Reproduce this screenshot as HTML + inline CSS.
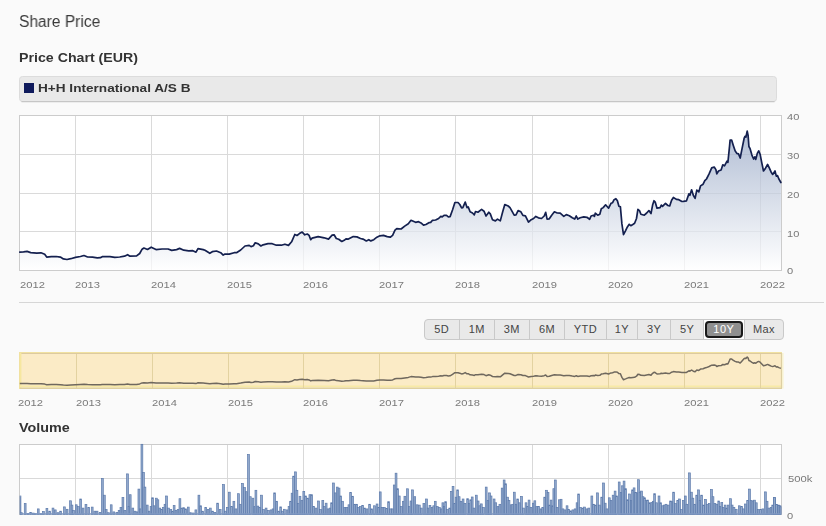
<!DOCTYPE html>
<html><head><meta charset="utf-8"><title>Share Price</title>
<style>
html,body{margin:0;padding:0;}
body{width:826px;height:526px;background:#fafafa;position:relative;overflow:hidden;font-family:"Liberation Sans",sans-serif;}
.t{position:absolute;white-space:nowrap;line-height:1;will-change:transform;}
.btns{position:absolute;left:423.5px;top:318.5px;height:19px;width:358.5px;border:1px solid #c9c9c9;border-radius:4px;background:#e9e9e9;display:flex;overflow:hidden;}
.btns div{box-sizing:border-box;height:19px;line-height:19.6px;text-align:center;font-size:11px;color:#444;border-left:1px solid #c9c9c9;letter-spacing:0.4px;padding-left:0.4px;}
.btns div:first-child{border-left:none;}
.btns .sel{background:#fff;position:relative;}
.btns .sel span{position:absolute;left:1px;top:1px;right:1px;bottom:1px;border:2px solid #1a1a1a;border-radius:4px;background:#8f8f8f;color:#fff;line-height:13.6px;}
</style></head><body>
<svg width="826" height="526" viewBox="0 0 826 526" style="position:absolute;left:0;top:0">
<defs>
<linearGradient id="ag" gradientUnits="userSpaceOnUse" x1="0" y1="131" x2="0" y2="270.5">
<stop offset="0" stop-color="#94a5c4" stop-opacity="0.72"/><stop offset="1" stop-color="#ffffff" stop-opacity="0.72"/></linearGradient>
</defs>
<rect x="19.5" y="76.5" width="757" height="25" rx="3" ry="3" fill="#e9e9e9" stroke="#dcdcdc" stroke-width="1"/>
<line x1="21.5" y1="101.7" x2="774.5" y2="101.7" stroke="#c6c6c6" stroke-width="1.3"/>
<rect x="24" y="83" width="10" height="10" fill="#0f1a5c"/>
<rect x="19.5" y="115.5" width="762.0" height="155.0" fill="#ffffff"/>
<line x1="19.5" y1="154.50" x2="781.5" y2="154.50" stroke="#dadada" stroke-width="1"/>
<line x1="19.5" y1="193.50" x2="781.5" y2="193.50" stroke="#dadada" stroke-width="1"/>
<line x1="19.5" y1="231.50" x2="781.5" y2="231.50" stroke="#dadada" stroke-width="1"/>
<line x1="75.5" y1="115.5" x2="75.5" y2="270.5" stroke="#dadada" stroke-width="1"/>
<line x1="151.5" y1="115.5" x2="151.5" y2="270.5" stroke="#dadada" stroke-width="1"/>
<line x1="227.5" y1="115.5" x2="227.5" y2="270.5" stroke="#dadada" stroke-width="1"/>
<line x1="303.5" y1="115.5" x2="303.5" y2="270.5" stroke="#dadada" stroke-width="1"/>
<line x1="379.5" y1="115.5" x2="379.5" y2="270.5" stroke="#dadada" stroke-width="1"/>
<line x1="455.5" y1="115.5" x2="455.5" y2="270.5" stroke="#dadada" stroke-width="1"/>
<line x1="532.5" y1="115.5" x2="532.5" y2="270.5" stroke="#dadada" stroke-width="1"/>
<line x1="608.5" y1="115.5" x2="608.5" y2="270.5" stroke="#dadada" stroke-width="1"/>
<line x1="684.5" y1="115.5" x2="684.5" y2="270.5" stroke="#dadada" stroke-width="1"/>
<line x1="760.5" y1="115.5" x2="760.5" y2="270.5" stroke="#dadada" stroke-width="1"/>
<path d="M19.8,252.2 L23.5,251.9 L27.1,251.4 L30.7,252.6 L36.8,253.1 L41.0,252.8 L44.7,254.3 L46.7,257.1 L51.3,256.7 L56.2,256.5 L60.4,257.1 L63.4,258.9 L67.0,259.5 L70.7,258.7 L75.5,257.4 L80.4,256.5 L84.0,255.5 L87.6,257.0 L92.5,257.2 L97.3,257.9 L100.4,257.7 L102.2,256.7 L107.0,256.7 L110.0,256.7 L114.8,257.4 L119.7,257.0 L124.5,256.2 L127.6,254.7 L130.0,256.2 L136.6,255.9 L139.7,253.5 L142.1,249.2 L143.9,248.0 L147.5,249.5 L151.2,247.2 L156.0,249.6 L162.1,249.0 L168.1,249.0 L171.7,250.4 L176.6,249.6 L179.6,248.4 L183.8,250.2 L188.7,250.8 L192.9,250.7 L196.0,252.2 L198.0,248.6 L203.2,249.6 L205.0,250.3 L209.8,253.3 L212.3,251.7 L216.5,251.0 L220.7,252.7 L223.2,255.1 L225.0,254.1 L229.2,254.1 L234.1,252.7 L236.5,252.7 L240.7,250.0 L245.0,246.0 L249.2,245.4 L251.0,246.6 L253.4,245.7 L255.2,242.8 L258.3,243.9 L260.9,246.0 L263.1,244.8 L268.0,243.7 L272.2,243.7 L276.4,245.2 L281.3,245.2 L284.9,244.2 L288.5,245.4 L291.6,241.8 L294.8,234.5 L297.0,235.5 L299.4,233.6 L302.2,232.1 L304.8,234.8 L307.3,234.0 L309.1,235.4 L310.7,239.7 L312.1,238.1 L318.2,236.6 L324.2,237.8 L328.5,239.1 L332.1,235.2 L334.1,234.8 L336.3,238.5 L338.7,239.3 L341.8,241.5 L344.2,240.3 L346.0,238.8 L348.4,239.1 L353.3,236.6 L356.9,236.9 L360.5,238.5 L363.0,239.1 L366.3,240.9 L368.8,239.7 L370.8,240.9 L373.8,239.7 L376.9,237.2 L379.9,235.8 L383.5,235.4 L387.2,236.6 L390.2,237.2 L392.6,235.4 L395.0,230.2 L396.8,228.6 L401.1,229.0 L404.7,226.1 L408.3,223.7 L411.0,220.3 L415.6,222.3 L418.6,221.7 L421.0,222.9 L423.5,225.1 L425.9,224.5 L428.9,222.7 L430.7,222.4 L432.5,220.3 L435.6,220.0 L438.6,218.5 L440.8,216.4 L442.2,216.9 L444.0,215.4 L446.5,215.4 L448.3,216.9 L450.1,216.6 L452.5,210.0 L454.9,202.5 L458.0,202.5 L459.8,204.5 L461.6,207.9 L462.8,207.6 L465.2,202.1 L467.0,207.6 L468.2,206.9 L470.1,211.8 L472.5,213.0 L474.3,214.8 L475.5,211.5 L477.9,212.2 L481.6,209.4 L484.0,211.2 L486.0,216.0 L488.8,212.2 L490.3,213.9 L492.5,219.7 L495.4,220.9 L497.5,219.1 L500.3,220.9 L502.7,211.8 L504.8,204.5 L508.2,206.0 L510.0,207.6 L514.2,215.2 L516.0,214.8 L518.1,210.6 L520.9,211.8 L522.9,215.4 L525.4,215.8 L528.5,222.1 L531.2,219.7 L533.6,218.5 L535.8,216.4 L538.4,217.8 L541.5,218.5 L544.2,216.0 L545.7,212.4 L547.1,219.1 L549.3,218.8 L551.7,215.2 L554.4,211.8 L557.2,213.0 L560.2,213.2 L563.8,216.4 L566.3,214.6 L569.3,215.7 L572.3,217.8 L574.7,219.1 L576.3,216.0 L577.8,219.1 L580.2,217.8 L583.8,216.9 L586.9,217.3 L589.6,219.3 L591.1,216.0 L593.5,215.2 L594.4,216.4 L595.3,213.2 L597.7,215.2 L599.8,214.2 L601.3,208.8 L603.2,207.6 L605.6,204.8 L608.6,208.2 L611.0,203.3 L612.6,202.7 L614.1,199.7 L615.9,198.7 L617.4,200.7 L618.9,206.3 L620.4,206.9 L621.9,223.9 L623.5,234.6 L625.6,230.6 L627.4,226.9 L629.2,224.3 L630.8,225.7 L632.8,224.5 L634.6,223.3 L636.5,218.5 L637.9,209.4 L639.5,210.6 L640.9,214.2 L644.3,215.2 L646.7,213.0 L648.9,210.6 L651.0,213.6 L652.6,205.1 L654.0,200.7 L655.2,202.1 L657.0,208.2 L660.1,207.6 L661.3,205.1 L662.5,206.3 L665.5,203.3 L667.9,205.5 L669.7,206.0 L671.6,200.3 L673.4,197.5 L676.4,199.4 L678.8,199.7 L681.9,201.5 L683.4,201.3 L686.5,200.8 L688.9,193.9 L689.9,195.3 L691.6,189.8 L693.3,195.3 L695.1,198.4 L696.8,190.1 L698.8,191.9 L700.5,185.9 L703.1,184.2 L704.8,180.7 L706.5,179.0 L709.1,173.9 L711.7,167.9 L714.2,167.0 L715.9,169.6 L716.8,173.9 L718.5,171.0 L721.1,170.0 L722.8,164.8 L724.5,165.9 L727.0,161.1 L727.9,162.4 L729.6,145.7 L730.1,140.2 L731.7,140.2 L733.4,145.7 L735.1,150.8 L736.8,153.4 L738.5,153.9 L740.2,158.0 L741.6,150.8 L744.2,138.0 L745.0,136.3 L745.9,137.1 L747.2,131.1 L748.1,135.4 L748.9,146.5 L750.1,148.7 L751.9,155.1 L753.6,159.0 L754.8,156.8 L755.8,159.4 L757.3,153.4 L758.7,150.8 L760.1,154.2 L761.8,162.8 L763.5,171.0 L765.5,168.2 L767.6,164.5 L769.3,167.9 L771.2,172.2 L772.7,174.4 L775.0,171.0 L776.3,176.1 L777.5,175.6 L778.9,179.0 L780.9,182.5 L780.9,270.5 L19.8,270.5 Z" fill="url(#ag)"/>
<rect x="19.5" y="115.5" width="762.0" height="155.0" fill="none" stroke="#cccccc" stroke-width="1"/>
<path d="M19.8,252.2 L23.5,251.9 L27.1,251.4 L30.7,252.6 L36.8,253.1 L41.0,252.8 L44.7,254.3 L46.7,257.1 L51.3,256.7 L56.2,256.5 L60.4,257.1 L63.4,258.9 L67.0,259.5 L70.7,258.7 L75.5,257.4 L80.4,256.5 L84.0,255.5 L87.6,257.0 L92.5,257.2 L97.3,257.9 L100.4,257.7 L102.2,256.7 L107.0,256.7 L110.0,256.7 L114.8,257.4 L119.7,257.0 L124.5,256.2 L127.6,254.7 L130.0,256.2 L136.6,255.9 L139.7,253.5 L142.1,249.2 L143.9,248.0 L147.5,249.5 L151.2,247.2 L156.0,249.6 L162.1,249.0 L168.1,249.0 L171.7,250.4 L176.6,249.6 L179.6,248.4 L183.8,250.2 L188.7,250.8 L192.9,250.7 L196.0,252.2 L198.0,248.6 L203.2,249.6 L205.0,250.3 L209.8,253.3 L212.3,251.7 L216.5,251.0 L220.7,252.7 L223.2,255.1 L225.0,254.1 L229.2,254.1 L234.1,252.7 L236.5,252.7 L240.7,250.0 L245.0,246.0 L249.2,245.4 L251.0,246.6 L253.4,245.7 L255.2,242.8 L258.3,243.9 L260.9,246.0 L263.1,244.8 L268.0,243.7 L272.2,243.7 L276.4,245.2 L281.3,245.2 L284.9,244.2 L288.5,245.4 L291.6,241.8 L294.8,234.5 L297.0,235.5 L299.4,233.6 L302.2,232.1 L304.8,234.8 L307.3,234.0 L309.1,235.4 L310.7,239.7 L312.1,238.1 L318.2,236.6 L324.2,237.8 L328.5,239.1 L332.1,235.2 L334.1,234.8 L336.3,238.5 L338.7,239.3 L341.8,241.5 L344.2,240.3 L346.0,238.8 L348.4,239.1 L353.3,236.6 L356.9,236.9 L360.5,238.5 L363.0,239.1 L366.3,240.9 L368.8,239.7 L370.8,240.9 L373.8,239.7 L376.9,237.2 L379.9,235.8 L383.5,235.4 L387.2,236.6 L390.2,237.2 L392.6,235.4 L395.0,230.2 L396.8,228.6 L401.1,229.0 L404.7,226.1 L408.3,223.7 L411.0,220.3 L415.6,222.3 L418.6,221.7 L421.0,222.9 L423.5,225.1 L425.9,224.5 L428.9,222.7 L430.7,222.4 L432.5,220.3 L435.6,220.0 L438.6,218.5 L440.8,216.4 L442.2,216.9 L444.0,215.4 L446.5,215.4 L448.3,216.9 L450.1,216.6 L452.5,210.0 L454.9,202.5 L458.0,202.5 L459.8,204.5 L461.6,207.9 L462.8,207.6 L465.2,202.1 L467.0,207.6 L468.2,206.9 L470.1,211.8 L472.5,213.0 L474.3,214.8 L475.5,211.5 L477.9,212.2 L481.6,209.4 L484.0,211.2 L486.0,216.0 L488.8,212.2 L490.3,213.9 L492.5,219.7 L495.4,220.9 L497.5,219.1 L500.3,220.9 L502.7,211.8 L504.8,204.5 L508.2,206.0 L510.0,207.6 L514.2,215.2 L516.0,214.8 L518.1,210.6 L520.9,211.8 L522.9,215.4 L525.4,215.8 L528.5,222.1 L531.2,219.7 L533.6,218.5 L535.8,216.4 L538.4,217.8 L541.5,218.5 L544.2,216.0 L545.7,212.4 L547.1,219.1 L549.3,218.8 L551.7,215.2 L554.4,211.8 L557.2,213.0 L560.2,213.2 L563.8,216.4 L566.3,214.6 L569.3,215.7 L572.3,217.8 L574.7,219.1 L576.3,216.0 L577.8,219.1 L580.2,217.8 L583.8,216.9 L586.9,217.3 L589.6,219.3 L591.1,216.0 L593.5,215.2 L594.4,216.4 L595.3,213.2 L597.7,215.2 L599.8,214.2 L601.3,208.8 L603.2,207.6 L605.6,204.8 L608.6,208.2 L611.0,203.3 L612.6,202.7 L614.1,199.7 L615.9,198.7 L617.4,200.7 L618.9,206.3 L620.4,206.9 L621.9,223.9 L623.5,234.6 L625.6,230.6 L627.4,226.9 L629.2,224.3 L630.8,225.7 L632.8,224.5 L634.6,223.3 L636.5,218.5 L637.9,209.4 L639.5,210.6 L640.9,214.2 L644.3,215.2 L646.7,213.0 L648.9,210.6 L651.0,213.6 L652.6,205.1 L654.0,200.7 L655.2,202.1 L657.0,208.2 L660.1,207.6 L661.3,205.1 L662.5,206.3 L665.5,203.3 L667.9,205.5 L669.7,206.0 L671.6,200.3 L673.4,197.5 L676.4,199.4 L678.8,199.7 L681.9,201.5 L683.4,201.3 L686.5,200.8 L688.9,193.9 L689.9,195.3 L691.6,189.8 L693.3,195.3 L695.1,198.4 L696.8,190.1 L698.8,191.9 L700.5,185.9 L703.1,184.2 L704.8,180.7 L706.5,179.0 L709.1,173.9 L711.7,167.9 L714.2,167.0 L715.9,169.6 L716.8,173.9 L718.5,171.0 L721.1,170.0 L722.8,164.8 L724.5,165.9 L727.0,161.1 L727.9,162.4 L729.6,145.7 L730.1,140.2 L731.7,140.2 L733.4,145.7 L735.1,150.8 L736.8,153.4 L738.5,153.9 L740.2,158.0 L741.6,150.8 L744.2,138.0 L745.0,136.3 L745.9,137.1 L747.2,131.1 L748.1,135.4 L748.9,146.5 L750.1,148.7 L751.9,155.1 L753.6,159.0 L754.8,156.8 L755.8,159.4 L757.3,153.4 L758.7,150.8 L760.1,154.2 L761.8,162.8 L763.5,171.0 L765.5,168.2 L767.6,164.5 L769.3,167.9 L771.2,172.2 L772.7,174.4 L775.0,171.0 L776.3,176.1 L777.5,175.6 L778.9,179.0 L780.9,182.5" fill="none" stroke="#14204f" stroke-width="1.7" stroke-linejoin="round" stroke-linecap="round"/>
<line x1="19" y1="302.5" x2="824" y2="302.5" stroke="#d6d6d6" stroke-width="1"/>
<rect x="19.5" y="352.5" width="762.0" height="36" fill="#fbebc6" stroke="#f1e1a0" stroke-width="1"/>
<line x1="20" y1="353.5" x2="782" y2="353.5" stroke="#dccaa0" stroke-width="1"/>
<line x1="20.7" y1="353" x2="20.7" y2="388" stroke="#f6e79f" stroke-width="1.4"/>
<line x1="20" y1="386.4" x2="781" y2="386.4" stroke="#f8eaa6" stroke-width="1.8"/>
<line x1="20" y1="388.2" x2="782" y2="388.2" stroke="#d6c8a0" stroke-width="1"/>
<line x1="781.4" y1="353" x2="781.4" y2="388.5" stroke="#dacda4" stroke-width="1"/>
<line x1="782.8" y1="353" x2="782.8" y2="388.5" stroke="#f8f1cc" stroke-width="1.4"/>
<line x1="76.5" y1="354" x2="76.5" y2="388" stroke="#e3d2a0" stroke-width="1"/>
<line x1="152.5" y1="354" x2="152.5" y2="388" stroke="#e3d2a0" stroke-width="1"/>
<line x1="228.5" y1="354" x2="228.5" y2="388" stroke="#e3d2a0" stroke-width="1"/>
<line x1="303.5" y1="354" x2="303.5" y2="388" stroke="#e3d2a0" stroke-width="1"/>
<line x1="379.5" y1="354" x2="379.5" y2="388" stroke="#e3d2a0" stroke-width="1"/>
<line x1="455.5" y1="354" x2="455.5" y2="388" stroke="#e3d2a0" stroke-width="1"/>
<line x1="532.5" y1="354" x2="532.5" y2="388" stroke="#e3d2a0" stroke-width="1"/>
<line x1="608.5" y1="354" x2="608.5" y2="388" stroke="#e3d2a0" stroke-width="1"/>
<line x1="684.5" y1="354" x2="684.5" y2="388" stroke="#e3d2a0" stroke-width="1"/>
<line x1="760.5" y1="354" x2="760.5" y2="388" stroke="#e3d2a0" stroke-width="1"/>
<path d="M19.8,383.6 L23.5,383.5 L27.1,383.4 L30.7,383.7 L36.8,383.8 L41.0,383.7 L44.7,384.1 L46.7,384.7 L51.3,384.6 L56.2,384.5 L60.4,384.7 L63.4,385.1 L67.0,385.2 L70.7,385.0 L75.5,384.7 L80.4,384.5 L84.0,384.3 L87.6,384.6 L92.5,384.7 L97.3,384.8 L100.4,384.8 L102.2,384.6 L107.0,384.6 L110.0,384.6 L114.8,384.7 L119.7,384.6 L124.5,384.5 L127.6,384.1 L130.0,384.5 L136.6,384.4 L139.7,383.9 L142.1,382.9 L143.9,382.7 L147.5,383.0 L151.2,382.5 L156.0,383.0 L162.1,382.9 L168.1,382.9 L171.7,383.2 L176.6,383.0 L179.6,382.8 L183.8,383.2 L188.7,383.3 L192.9,383.3 L196.0,383.6 L198.0,382.8 L203.2,383.0 L205.0,383.2 L209.8,383.8 L212.3,383.5 L216.5,383.3 L220.7,383.7 L223.2,384.2 L225.0,384.0 L229.2,384.0 L234.1,383.7 L236.5,383.7 L240.7,383.1 L245.0,382.2 L249.2,382.1 L251.0,382.4 L253.4,382.2 L255.2,381.5 L258.3,381.8 L260.9,382.2 L263.1,382.0 L268.0,381.7 L272.2,381.7 L276.4,382.1 L281.3,382.1 L284.9,381.8 L288.5,382.1 L291.6,381.3 L294.8,379.7 L297.0,379.9 L299.4,379.5 L302.2,379.2 L304.8,379.8 L307.3,379.6 L309.1,379.9 L310.7,380.9 L312.1,380.5 L318.2,380.2 L324.2,380.4 L328.5,380.7 L332.1,379.9 L334.1,379.8 L336.3,380.6 L338.7,380.8 L341.8,381.3 L344.2,381.0 L346.0,380.7 L348.4,380.7 L353.3,380.2 L356.9,380.3 L360.5,380.6 L363.0,380.7 L366.3,381.1 L368.8,380.9 L370.8,381.1 L373.8,380.9 L376.9,380.3 L379.9,380.0 L383.5,379.9 L387.2,380.2 L390.2,380.3 L392.6,379.9 L395.0,378.8 L396.8,378.4 L401.1,378.5 L404.7,377.9 L408.3,377.4 L411.0,376.6 L415.6,377.1 L418.6,376.9 L421.0,377.2 L423.5,377.7 L425.9,377.5 L428.9,377.1 L430.7,377.1 L432.5,376.6 L435.6,376.6 L438.6,376.2 L440.8,375.8 L442.2,375.9 L444.0,375.5 L446.5,375.5 L448.3,375.9 L450.1,375.8 L452.5,374.4 L454.9,372.7 L458.0,372.7 L459.8,373.2 L461.6,373.9 L462.8,373.8 L465.2,372.6 L467.0,373.8 L468.2,373.7 L470.1,374.8 L472.5,375.0 L474.3,375.4 L475.5,374.7 L477.9,374.8 L481.6,374.2 L484.0,374.6 L486.0,375.7 L488.8,374.8 L490.3,375.2 L492.5,376.5 L495.4,376.8 L497.5,376.4 L500.3,376.8 L502.7,374.8 L504.8,373.2 L508.2,373.5 L510.0,373.8 L514.2,375.5 L516.0,375.4 L518.1,374.5 L520.9,374.8 L522.9,375.5 L525.4,375.6 L528.5,377.0 L531.2,376.5 L533.6,376.2 L535.8,375.8 L538.4,376.1 L541.5,376.2 L544.2,375.7 L545.7,374.9 L547.1,376.4 L549.3,376.3 L551.7,375.5 L554.4,374.8 L557.2,375.0 L560.2,375.1 L563.8,375.8 L566.3,375.4 L569.3,375.6 L572.3,376.1 L574.7,376.4 L576.3,375.7 L577.8,376.4 L580.2,376.1 L583.8,375.9 L586.9,376.0 L589.6,376.4 L591.1,375.7 L593.5,375.5 L594.4,375.8 L595.3,375.1 L597.7,375.5 L599.8,375.3 L601.3,374.1 L603.2,373.8 L605.6,373.2 L608.6,374.0 L611.0,372.9 L612.6,372.8 L614.1,372.1 L615.9,371.9 L617.4,372.3 L618.9,373.6 L620.4,373.7 L621.9,377.4 L623.5,379.7 L625.6,378.9 L627.4,378.1 L629.2,377.5 L630.8,377.8 L632.8,377.5 L634.6,377.3 L636.5,376.2 L637.9,374.2 L639.5,374.5 L640.9,375.3 L644.3,375.5 L646.7,375.0 L648.9,374.5 L651.0,375.2 L652.6,373.3 L654.0,372.3 L655.2,372.6 L657.0,374.0 L660.1,373.8 L661.3,373.3 L662.5,373.6 L665.5,372.9 L667.9,373.4 L669.7,373.5 L671.6,372.2 L673.4,371.6 L676.4,372.0 L678.8,372.1 L681.9,372.5 L683.4,372.5 L686.5,372.4 L688.9,370.8 L689.9,371.2 L691.6,370.0 L693.3,371.2 L695.1,371.8 L696.8,370.0 L698.8,370.4 L700.5,369.1 L703.1,368.7 L704.8,368.0 L706.5,367.6 L709.1,366.5 L711.7,365.2 L714.2,365.0 L715.9,365.5 L716.8,366.5 L718.5,365.8 L721.1,365.6 L722.8,364.5 L724.5,364.7 L727.0,363.7 L727.9,364.0 L729.6,360.3 L730.1,359.1 L731.7,359.1 L733.4,360.3 L735.1,361.4 L736.8,362.0 L738.5,362.1 L740.2,363.0 L741.6,361.4 L744.2,358.6 L745.0,358.2 L745.9,358.4 L747.2,357.1 L748.1,358.1 L748.9,360.5 L750.1,361.0 L751.9,362.4 L753.6,363.2 L754.8,362.7 L755.8,363.3 L757.3,362.0 L758.7,361.4 L760.1,362.2 L761.8,364.0 L763.5,365.8 L765.5,365.2 L767.6,364.4 L769.3,365.2 L771.2,366.1 L772.7,366.6 L775.0,365.8 L776.3,367.0 L777.5,366.8 L778.9,367.6 L780.9,368.4" fill="none" stroke="#6f685e" stroke-width="1.5" stroke-linejoin="round"/>
<rect x="19.5" y="444.5" width="762.0" height="70.0" fill="#ffffff"/>
<line x1="19.5" y1="478.5" x2="781.5" y2="478.5" stroke="#d9d9d9" stroke-width="1"/>
<line x1="75.5" y1="444.5" x2="75.5" y2="514.5" stroke="#d9d9d9" stroke-width="1"/>
<line x1="151.5" y1="444.5" x2="151.5" y2="514.5" stroke="#d9d9d9" stroke-width="1"/>
<line x1="227.5" y1="444.5" x2="227.5" y2="514.5" stroke="#d9d9d9" stroke-width="1"/>
<line x1="303.5" y1="444.5" x2="303.5" y2="514.5" stroke="#d9d9d9" stroke-width="1"/>
<line x1="379.5" y1="444.5" x2="379.5" y2="514.5" stroke="#d9d9d9" stroke-width="1"/>
<line x1="455.5" y1="444.5" x2="455.5" y2="514.5" stroke="#d9d9d9" stroke-width="1"/>
<line x1="532.5" y1="444.5" x2="532.5" y2="514.5" stroke="#d9d9d9" stroke-width="1"/>
<line x1="608.5" y1="444.5" x2="608.5" y2="514.5" stroke="#d9d9d9" stroke-width="1"/>
<line x1="684.5" y1="444.5" x2="684.5" y2="514.5" stroke="#d9d9d9" stroke-width="1"/>
<line x1="760.5" y1="444.5" x2="760.5" y2="514.5" stroke="#d9d9d9" stroke-width="1"/>
<rect x="19.5" y="444.5" width="762.0" height="70.0" fill="none" stroke="#cccccc" stroke-width="1"/>
<g fill="#92a9cc" stroke="#5c7aab" stroke-width="0.7">
<rect x="20.00" y="496.0" width="0.92" height="18.5"/>
<rect x="20.48" y="512.7" width="1.80" height="1.8"/>
<rect x="24.28" y="503.6" width="1.80" height="10.9"/>
<rect x="27.02" y="513.4" width="1.80" height="1.1"/>
<rect x="29.75" y="512.4" width="1.80" height="2.1"/>
<rect x="32.34" y="513.1" width="1.80" height="1.4"/>
<rect x="34.62" y="513.7" width="1.80" height="0.8"/>
<rect x="37.35" y="508.9" width="1.80" height="5.6"/>
<rect x="39.94" y="513.7" width="1.80" height="0.8"/>
<rect x="42.52" y="511.5" width="1.80" height="3.0"/>
<rect x="46.01" y="508.4" width="1.80" height="6.1"/>
<rect x="48.75" y="511.2" width="1.80" height="3.3"/>
<rect x="52.09" y="508.1" width="1.80" height="6.4"/>
<rect x="54.37" y="509.9" width="1.80" height="4.6"/>
<rect x="56.96" y="512.7" width="1.80" height="1.8"/>
<rect x="59.69" y="511.2" width="1.80" height="3.3"/>
<rect x="63.49" y="506.9" width="1.80" height="7.6"/>
<rect x="66.23" y="509.3" width="1.80" height="5.2"/>
<rect x="69.57" y="500.8" width="1.80" height="13.7"/>
<rect x="71.09" y="505.1" width="1.80" height="9.4"/>
<rect x="72.61" y="510.4" width="1.80" height="4.1"/>
<rect x="75.35" y="504.8" width="1.80" height="9.7"/>
<rect x="77.63" y="506.6" width="1.80" height="7.9"/>
<rect x="79.75" y="499.0" width="1.80" height="15.5"/>
<rect x="82.19" y="508.1" width="1.80" height="6.4"/>
<rect x="85.07" y="504.6" width="1.80" height="9.9"/>
<rect x="87.81" y="507.4" width="1.80" height="7.1"/>
<rect x="91.30" y="507.1" width="1.80" height="7.5"/>
<rect x="93.89" y="511.2" width="1.80" height="3.3"/>
<rect x="96.17" y="511.2" width="1.80" height="3.3"/>
<rect x="99.21" y="512.4" width="1.80" height="2.1"/>
<rect x="101.49" y="478.5" width="1.80" height="36.0"/>
<rect x="103.46" y="495.2" width="1.80" height="19.3"/>
<rect x="105.29" y="509.6" width="1.80" height="4.9"/>
<rect x="107.57" y="512.7" width="1.80" height="1.8"/>
<rect x="110.30" y="504.8" width="1.80" height="9.7"/>
<rect x="112.90" y="511.9" width="1.80" height="2.6"/>
<rect x="115.94" y="512.4" width="1.80" height="2.1"/>
<rect x="118.22" y="510.4" width="1.80" height="4.1"/>
<rect x="120.04" y="507.4" width="1.80" height="7.1"/>
<rect x="122.02" y="497.5" width="1.80" height="17.0"/>
<rect x="123.99" y="510.4" width="1.80" height="4.1"/>
<rect x="126.58" y="473.9" width="1.80" height="40.6"/>
<rect x="128.10" y="506.6" width="1.80" height="7.9"/>
<rect x="129.31" y="494.7" width="1.80" height="19.8"/>
<rect x="131.90" y="508.1" width="1.80" height="6.4"/>
<rect x="134.18" y="511.2" width="1.80" height="3.3"/>
<rect x="136.15" y="511.9" width="1.80" height="2.6"/>
<rect x="137.98" y="489.1" width="1.80" height="25.4"/>
<rect x="139.50" y="508.9" width="1.80" height="5.6"/>
<rect x="141.01" y="444.3" width="1.80" height="70.2"/>
<rect x="142.53" y="472.4" width="1.80" height="42.1"/>
<rect x="144.05" y="487.1" width="1.80" height="27.4"/>
<rect x="146.33" y="505.1" width="1.80" height="9.4"/>
<rect x="148.31" y="511.2" width="1.80" height="3.3"/>
<rect x="150.13" y="506.6" width="1.80" height="7.9"/>
<rect x="151.65" y="497.8" width="1.80" height="16.7"/>
<rect x="153.17" y="505.8" width="1.80" height="8.7"/>
<rect x="155.45" y="498.2" width="1.80" height="16.3"/>
<rect x="156.97" y="499.8" width="1.80" height="14.7"/>
<rect x="158.95" y="508.1" width="1.80" height="6.4"/>
<rect x="160.77" y="509.6" width="1.80" height="4.9"/>
<rect x="162.60" y="507.4" width="1.80" height="7.1"/>
<rect x="164.12" y="504.3" width="1.80" height="10.2"/>
<rect x="165.63" y="496.0" width="1.80" height="18.5"/>
<rect x="167.61" y="508.1" width="1.80" height="6.4"/>
<rect x="169.89" y="509.6" width="1.80" height="4.9"/>
<rect x="171.71" y="511.2" width="1.80" height="3.3"/>
<rect x="173.23" y="505.5" width="1.80" height="9.0"/>
<rect x="175.21" y="510.4" width="1.80" height="4.1"/>
<rect x="177.19" y="509.6" width="1.80" height="4.9"/>
<rect x="179.01" y="498.7" width="1.80" height="15.8"/>
<rect x="180.83" y="508.1" width="1.80" height="6.4"/>
<rect x="182.81" y="507.7" width="1.80" height="6.8"/>
<rect x="184.78" y="508.9" width="1.80" height="5.6"/>
<rect x="187.37" y="507.1" width="1.80" height="7.5"/>
<rect x="189.65" y="512.7" width="1.80" height="1.8"/>
<rect x="192.38" y="513.0" width="1.80" height="1.5"/>
<rect x="194.97" y="509.9" width="1.80" height="4.6"/>
<rect x="198.01" y="495.2" width="1.80" height="19.3"/>
<rect x="199.83" y="505.8" width="1.80" height="8.7"/>
<rect x="201.81" y="511.2" width="1.80" height="3.3"/>
<rect x="204.84" y="507.4" width="1.80" height="7.1"/>
<rect x="207.14" y="509.6" width="1.80" height="4.9"/>
<rect x="209.42" y="508.1" width="1.80" height="6.4"/>
<rect x="211.70" y="511.2" width="1.80" height="3.3"/>
<rect x="213.98" y="512.4" width="1.80" height="2.1"/>
<rect x="216.71" y="503.2" width="1.80" height="11.2"/>
<rect x="219.30" y="509.6" width="1.80" height="4.9"/>
<rect x="222.64" y="484.6" width="1.80" height="29.9"/>
<rect x="224.62" y="511.2" width="1.80" height="3.3"/>
<rect x="226.44" y="507.4" width="1.80" height="7.1"/>
<rect x="228.42" y="492.2" width="1.80" height="22.3"/>
<rect x="230.70" y="506.6" width="1.80" height="7.9"/>
<rect x="232.98" y="501.3" width="1.80" height="13.2"/>
<rect x="234.95" y="508.9" width="1.80" height="5.6"/>
<rect x="237.53" y="493.7" width="1.80" height="20.8"/>
<rect x="239.36" y="504.3" width="1.80" height="10.2"/>
<rect x="241.64" y="483.5" width="1.80" height="31.0"/>
<rect x="243.61" y="487.6" width="1.80" height="26.9"/>
<rect x="245.44" y="491.7" width="1.80" height="22.8"/>
<rect x="247.57" y="454.5" width="1.80" height="60.0"/>
<rect x="249.39" y="496.7" width="1.80" height="17.8"/>
<rect x="251.97" y="498.2" width="1.80" height="16.3"/>
<rect x="253.95" y="506.6" width="1.80" height="7.9"/>
<rect x="255.01" y="490.3" width="1.80" height="24.2"/>
<rect x="256.99" y="506.1" width="1.80" height="8.4"/>
<rect x="258.81" y="507.4" width="1.80" height="7.1"/>
<rect x="260.63" y="495.2" width="1.80" height="19.3"/>
<rect x="262.61" y="509.6" width="1.80" height="4.9"/>
<rect x="265.19" y="508.1" width="1.80" height="6.4"/>
<rect x="267.63" y="510.4" width="1.80" height="4.1"/>
<rect x="270.21" y="509.9" width="1.80" height="4.6"/>
<rect x="272.19" y="508.9" width="1.80" height="5.6"/>
<rect x="273.70" y="492.9" width="1.80" height="21.6"/>
<rect x="275.83" y="501.3" width="1.80" height="13.2"/>
<rect x="277.81" y="511.2" width="1.80" height="3.3"/>
<rect x="279.78" y="506.9" width="1.80" height="7.6"/>
<rect x="281.61" y="511.2" width="1.80" height="3.3"/>
<rect x="283.43" y="509.3" width="1.80" height="5.2"/>
<rect x="286.17" y="509.9" width="1.80" height="4.6"/>
<rect x="288.14" y="506.6" width="1.80" height="7.9"/>
<rect x="289.66" y="501.3" width="1.80" height="13.2"/>
<rect x="291.18" y="493.2" width="1.80" height="21.3"/>
<rect x="292.70" y="476.2" width="1.80" height="38.3"/>
<rect x="294.53" y="471.9" width="1.80" height="42.5"/>
<rect x="296.05" y="490.3" width="1.80" height="24.2"/>
<rect x="297.57" y="503.6" width="1.80" height="10.9"/>
<rect x="299.08" y="496.3" width="1.80" height="18.2"/>
<rect x="301.06" y="500.5" width="1.80" height="14.0"/>
<rect x="302.90" y="491.4" width="1.80" height="23.1"/>
<rect x="304.72" y="496.0" width="1.80" height="18.5"/>
<rect x="306.70" y="498.2" width="1.80" height="16.3"/>
<rect x="308.98" y="494.7" width="1.80" height="19.8"/>
<rect x="310.80" y="494.7" width="1.80" height="19.8"/>
<rect x="312.78" y="506.6" width="1.80" height="7.9"/>
<rect x="315.06" y="508.1" width="1.80" height="6.4"/>
<rect x="317.64" y="501.0" width="1.80" height="13.5"/>
<rect x="319.62" y="509.6" width="1.80" height="4.9"/>
<rect x="321.90" y="500.5" width="1.80" height="14.0"/>
<rect x="323.42" y="506.6" width="1.80" height="7.9"/>
<rect x="325.24" y="503.2" width="1.80" height="11.2"/>
<rect x="327.22" y="508.9" width="1.80" height="5.6"/>
<rect x="329.19" y="508.1" width="1.80" height="6.4"/>
<rect x="330.71" y="502.8" width="1.80" height="11.7"/>
<rect x="332.53" y="483.0" width="1.80" height="31.5"/>
<rect x="334.36" y="492.9" width="1.80" height="21.6"/>
<rect x="336.33" y="487.1" width="1.80" height="27.4"/>
<rect x="338.16" y="488.1" width="1.80" height="26.4"/>
<rect x="339.83" y="496.0" width="1.80" height="18.5"/>
<rect x="341.65" y="501.3" width="1.80" height="13.2"/>
<rect x="343.93" y="507.4" width="1.80" height="7.1"/>
<rect x="345.91" y="507.4" width="1.80" height="7.1"/>
<rect x="348.04" y="504.8" width="1.80" height="9.7"/>
<rect x="349.71" y="492.6" width="1.80" height="21.9"/>
<rect x="351.68" y="496.3" width="1.80" height="18.2"/>
<rect x="353.81" y="504.3" width="1.80" height="10.2"/>
<rect x="355.79" y="504.3" width="1.80" height="10.2"/>
<rect x="357.61" y="507.4" width="1.80" height="7.1"/>
<rect x="359.59" y="506.6" width="1.80" height="7.9"/>
<rect x="361.71" y="505.4" width="1.80" height="9.1"/>
<rect x="363.69" y="508.1" width="1.80" height="6.4"/>
<rect x="365.97" y="508.9" width="1.80" height="5.6"/>
<rect x="368.70" y="504.3" width="1.80" height="10.2"/>
<rect x="370.83" y="508.9" width="1.80" height="5.6"/>
<rect x="373.57" y="505.8" width="1.80" height="8.7"/>
<rect x="376.15" y="504.0" width="1.80" height="10.5"/>
<rect x="377.82" y="507.4" width="1.80" height="7.1"/>
<rect x="379.34" y="491.9" width="1.80" height="22.6"/>
<rect x="381.17" y="507.4" width="1.80" height="7.1"/>
<rect x="383.45" y="507.4" width="1.80" height="7.1"/>
<rect x="385.73" y="508.4" width="1.80" height="6.1"/>
<rect x="387.70" y="501.7" width="1.80" height="12.8"/>
<rect x="389.53" y="508.9" width="1.80" height="5.6"/>
<rect x="391.50" y="508.9" width="1.80" height="5.6"/>
<rect x="393.32" y="485.0" width="1.80" height="29.5"/>
<rect x="395.15" y="473.2" width="1.80" height="41.3"/>
<rect x="396.68" y="488.7" width="1.80" height="25.8"/>
<rect x="398.36" y="496.0" width="1.80" height="18.5"/>
<rect x="400.48" y="506.6" width="1.80" height="7.9"/>
<rect x="402.46" y="501.3" width="1.80" height="13.2"/>
<rect x="403.98" y="496.3" width="1.80" height="18.2"/>
<rect x="406.56" y="488.8" width="1.80" height="25.7"/>
<rect x="408.54" y="506.6" width="1.80" height="7.9"/>
<rect x="410.06" y="501.0" width="1.80" height="13.5"/>
<rect x="411.58" y="489.9" width="1.80" height="24.6"/>
<rect x="413.86" y="496.7" width="1.80" height="17.8"/>
<rect x="416.14" y="504.8" width="1.80" height="9.7"/>
<rect x="418.42" y="505.1" width="1.80" height="9.4"/>
<rect x="420.39" y="508.1" width="1.80" height="6.4"/>
<rect x="422.98" y="503.6" width="1.80" height="10.9"/>
<rect x="425.56" y="499.0" width="1.80" height="15.5"/>
<rect x="427.23" y="508.1" width="1.80" height="6.4"/>
<rect x="429.05" y="505.4" width="1.80" height="9.1"/>
<rect x="431.33" y="507.4" width="1.80" height="7.1"/>
<rect x="432.85" y="505.8" width="1.80" height="8.7"/>
<rect x="434.37" y="501.3" width="1.80" height="13.2"/>
<rect x="436.35" y="506.6" width="1.80" height="7.9"/>
<rect x="438.48" y="507.4" width="1.80" height="7.1"/>
<rect x="440.45" y="508.9" width="1.80" height="5.6"/>
<rect x="441.97" y="502.8" width="1.80" height="11.7"/>
<rect x="443.49" y="506.6" width="1.80" height="7.9"/>
<rect x="444.71" y="501.7" width="1.80" height="12.8"/>
<rect x="446.53" y="509.6" width="1.80" height="4.9"/>
<rect x="448.81" y="508.1" width="1.80" height="6.4"/>
<rect x="450.63" y="491.4" width="1.80" height="23.1"/>
<rect x="452.15" y="486.4" width="1.80" height="28.1"/>
<rect x="453.83" y="503.6" width="1.80" height="10.9"/>
<rect x="455.19" y="497.2" width="1.80" height="17.3"/>
<rect x="456.71" y="489.9" width="1.80" height="24.6"/>
<rect x="458.23" y="496.7" width="1.80" height="17.8"/>
<rect x="460.21" y="501.3" width="1.80" height="13.2"/>
<rect x="462.19" y="499.0" width="1.80" height="15.5"/>
<rect x="464.01" y="503.6" width="1.80" height="10.9"/>
<rect x="466.74" y="498.7" width="1.80" height="15.8"/>
<rect x="468.57" y="503.6" width="1.80" height="10.9"/>
<rect x="469.78" y="499.8" width="1.80" height="14.7"/>
<rect x="471.30" y="497.0" width="1.80" height="17.5"/>
<rect x="473.13" y="508.1" width="1.80" height="6.4"/>
<rect x="475.41" y="495.2" width="1.80" height="19.3"/>
<rect x="477.23" y="501.0" width="1.80" height="13.5"/>
<rect x="478.90" y="505.8" width="1.80" height="8.7"/>
<rect x="480.42" y="503.9" width="1.80" height="10.6"/>
<rect x="482.55" y="507.4" width="1.80" height="7.1"/>
<rect x="485.29" y="487.1" width="1.80" height="27.4"/>
<rect x="487.11" y="500.5" width="1.80" height="14.0"/>
<rect x="488.63" y="492.9" width="1.80" height="21.6"/>
<rect x="490.15" y="496.0" width="1.80" height="18.5"/>
<rect x="493.20" y="499.0" width="1.80" height="15.5"/>
<rect x="494.88" y="502.8" width="1.80" height="11.7"/>
<rect x="497.00" y="506.6" width="1.80" height="7.9"/>
<rect x="498.98" y="504.3" width="1.80" height="10.2"/>
<rect x="501.26" y="488.1" width="1.80" height="26.4"/>
<rect x="503.23" y="480.0" width="1.80" height="34.5"/>
<rect x="504.75" y="483.8" width="1.80" height="30.7"/>
<rect x="506.58" y="497.2" width="1.80" height="17.3"/>
<rect x="508.10" y="500.5" width="1.80" height="14.0"/>
<rect x="510.38" y="504.8" width="1.80" height="9.7"/>
<rect x="511.90" y="504.3" width="1.80" height="10.2"/>
<rect x="513.42" y="492.2" width="1.80" height="22.3"/>
<rect x="515.24" y="504.3" width="1.80" height="10.2"/>
<rect x="516.76" y="499.0" width="1.80" height="15.5"/>
<rect x="518.43" y="502.8" width="1.80" height="11.7"/>
<rect x="520.56" y="496.4" width="1.80" height="18.1"/>
<rect x="522.53" y="508.1" width="1.80" height="6.4"/>
<rect x="525.12" y="502.8" width="1.80" height="11.7"/>
<rect x="526.79" y="506.6" width="1.80" height="7.9"/>
<rect x="528.16" y="500.1" width="1.80" height="14.4"/>
<rect x="530.13" y="507.4" width="1.80" height="7.1"/>
<rect x="532.41" y="503.2" width="1.80" height="11.2"/>
<rect x="533.93" y="500.8" width="1.80" height="13.7"/>
<rect x="535.91" y="506.6" width="1.80" height="7.9"/>
<rect x="537.73" y="506.6" width="1.80" height="7.9"/>
<rect x="540.01" y="508.9" width="1.80" height="5.6"/>
<rect x="541.84" y="507.4" width="1.80" height="7.1"/>
<rect x="543.81" y="497.2" width="1.80" height="17.3"/>
<rect x="545.63" y="490.3" width="1.80" height="24.2"/>
<rect x="547.15" y="492.6" width="1.80" height="21.9"/>
<rect x="548.67" y="505.1" width="1.80" height="9.4"/>
<rect x="550.19" y="500.1" width="1.80" height="14.4"/>
<rect x="551.71" y="505.8" width="1.80" height="8.7"/>
<rect x="552.93" y="488.7" width="1.80" height="25.8"/>
<rect x="554.45" y="480.0" width="1.80" height="34.5"/>
<rect x="556.27" y="507.4" width="1.80" height="7.1"/>
<rect x="558.55" y="499.8" width="1.80" height="14.7"/>
<rect x="560.22" y="499.3" width="1.80" height="15.2"/>
<rect x="562.05" y="508.9" width="1.80" height="5.6"/>
<rect x="564.02" y="509.9" width="1.80" height="4.6"/>
<rect x="566.15" y="505.8" width="1.80" height="8.7"/>
<rect x="567.82" y="509.6" width="1.80" height="4.9"/>
<rect x="569.65" y="510.9" width="1.80" height="3.6"/>
<rect x="571.93" y="509.9" width="1.80" height="4.6"/>
<rect x="574.21" y="508.9" width="1.80" height="5.6"/>
<rect x="576.18" y="502.8" width="1.80" height="11.7"/>
<rect x="577.70" y="494.0" width="1.80" height="20.5"/>
<rect x="579.53" y="507.4" width="1.80" height="7.1"/>
<rect x="581.81" y="508.1" width="1.80" height="6.4"/>
<rect x="583.63" y="507.1" width="1.80" height="7.5"/>
<rect x="585.91" y="508.9" width="1.80" height="5.6"/>
<rect x="587.90" y="508.1" width="1.80" height="6.4"/>
<rect x="590.94" y="496.0" width="1.80" height="18.5"/>
<rect x="592.76" y="504.3" width="1.80" height="10.2"/>
<rect x="594.74" y="505.1" width="1.80" height="9.4"/>
<rect x="596.56" y="492.9" width="1.80" height="21.6"/>
<rect x="598.54" y="505.1" width="1.80" height="9.4"/>
<rect x="600.82" y="497.2" width="1.80" height="17.3"/>
<rect x="602.64" y="483.0" width="1.80" height="31.5"/>
<rect x="604.31" y="503.2" width="1.80" height="11.2"/>
<rect x="606.14" y="508.9" width="1.80" height="5.6"/>
<rect x="608.42" y="497.8" width="1.80" height="16.7"/>
<rect x="610.24" y="500.5" width="1.80" height="14.0"/>
<rect x="612.22" y="495.2" width="1.80" height="19.3"/>
<rect x="614.19" y="491.1" width="1.80" height="23.4"/>
<rect x="615.71" y="496.0" width="1.80" height="18.5"/>
<rect x="618.29" y="482.0" width="1.80" height="32.5"/>
<rect x="620.27" y="492.6" width="1.80" height="21.9"/>
<rect x="621.64" y="485.8" width="1.80" height="28.7"/>
<rect x="623.16" y="481.1" width="1.80" height="33.4"/>
<rect x="624.68" y="488.7" width="1.80" height="25.8"/>
<rect x="626.65" y="499.8" width="1.80" height="14.7"/>
<rect x="628.63" y="494.0" width="1.80" height="20.5"/>
<rect x="630.45" y="500.5" width="1.80" height="14.0"/>
<rect x="631.67" y="489.9" width="1.80" height="24.6"/>
<rect x="633.19" y="487.9" width="1.80" height="26.6"/>
<rect x="634.71" y="492.6" width="1.80" height="21.9"/>
<rect x="636.23" y="492.9" width="1.80" height="21.6"/>
<rect x="637.60" y="479.7" width="1.80" height="34.8"/>
<rect x="639.12" y="492.2" width="1.80" height="22.3"/>
<rect x="640.63" y="491.1" width="1.80" height="23.4"/>
<rect x="642.15" y="496.7" width="1.80" height="17.8"/>
<rect x="643.67" y="497.8" width="1.80" height="16.7"/>
<rect x="645.19" y="500.5" width="1.80" height="14.0"/>
<rect x="646.71" y="500.1" width="1.80" height="14.4"/>
<rect x="648.69" y="502.8" width="1.80" height="11.7"/>
<rect x="650.97" y="502.5" width="1.80" height="12.0"/>
<rect x="652.49" y="501.3" width="1.80" height="13.2"/>
<rect x="653.70" y="493.7" width="1.80" height="20.8"/>
<rect x="655.53" y="502.8" width="1.80" height="11.7"/>
<rect x="658.11" y="496.0" width="1.80" height="18.5"/>
<rect x="659.78" y="502.8" width="1.80" height="11.7"/>
<rect x="661.61" y="505.8" width="1.80" height="8.7"/>
<rect x="663.43" y="505.1" width="1.80" height="9.4"/>
<rect x="665.10" y="504.3" width="1.80" height="10.2"/>
<rect x="667.38" y="505.1" width="1.80" height="9.4"/>
<rect x="669.66" y="501.0" width="1.80" height="13.5"/>
<rect x="671.18" y="501.7" width="1.80" height="12.8"/>
<rect x="672.70" y="492.2" width="1.80" height="22.3"/>
<rect x="674.53" y="503.6" width="1.80" height="10.9"/>
<rect x="676.81" y="500.5" width="1.80" height="14.0"/>
<rect x="678.63" y="499.0" width="1.80" height="15.5"/>
<rect x="680.60" y="509.6" width="1.80" height="4.9"/>
<rect x="682.44" y="500.5" width="1.80" height="14.0"/>
<rect x="684.42" y="496.0" width="1.80" height="18.5"/>
<rect x="685.94" y="504.3" width="1.80" height="10.2"/>
<rect x="688.52" y="472.9" width="1.80" height="41.6"/>
<rect x="690.50" y="492.2" width="1.80" height="22.3"/>
<rect x="692.02" y="498.2" width="1.80" height="16.3"/>
<rect x="693.84" y="504.3" width="1.80" height="10.2"/>
<rect x="695.82" y="495.2" width="1.80" height="19.3"/>
<rect x="697.64" y="489.9" width="1.80" height="24.6"/>
<rect x="699.16" y="500.5" width="1.80" height="14.0"/>
<rect x="700.68" y="495.2" width="1.80" height="19.3"/>
<rect x="702.66" y="505.1" width="1.80" height="9.4"/>
<rect x="704.63" y="499.4" width="1.80" height="15.1"/>
<rect x="706.46" y="504.3" width="1.80" height="10.2"/>
<rect x="708.43" y="503.6" width="1.80" height="10.9"/>
<rect x="710.56" y="489.6" width="1.80" height="24.9"/>
<rect x="712.08" y="496.7" width="1.80" height="17.8"/>
<rect x="714.05" y="503.6" width="1.80" height="10.9"/>
<rect x="715.88" y="504.3" width="1.80" height="10.2"/>
<rect x="717.85" y="501.0" width="1.80" height="13.5"/>
<rect x="719.37" y="506.6" width="1.80" height="7.9"/>
<rect x="720.89" y="502.5" width="1.80" height="12.0"/>
<rect x="722.41" y="507.4" width="1.80" height="7.1"/>
<rect x="724.24" y="505.1" width="1.80" height="9.4"/>
<rect x="725.76" y="508.1" width="1.80" height="6.4"/>
<rect x="727.28" y="505.1" width="1.80" height="9.4"/>
<rect x="729.56" y="498.7" width="1.80" height="15.8"/>
<rect x="731.23" y="505.1" width="1.80" height="9.4"/>
<rect x="733.05" y="507.4" width="1.80" height="7.1"/>
<rect x="735.33" y="509.3" width="1.80" height="5.2"/>
<rect x="738.37" y="505.8" width="1.80" height="8.7"/>
<rect x="740.65" y="506.6" width="1.80" height="7.9"/>
<rect x="742.63" y="508.9" width="1.80" height="5.6"/>
<rect x="744.45" y="504.0" width="1.80" height="10.5"/>
<rect x="746.73" y="500.5" width="1.80" height="14.0"/>
<rect x="748.55" y="489.1" width="1.80" height="25.4"/>
<rect x="750.22" y="500.5" width="1.80" height="14.0"/>
<rect x="752.05" y="501.0" width="1.80" height="13.5"/>
<rect x="753.57" y="500.2" width="1.80" height="14.3"/>
<rect x="755.39" y="502.8" width="1.80" height="11.7"/>
<rect x="757.37" y="509.6" width="1.80" height="4.9"/>
<rect x="759.65" y="509.6" width="1.80" height="4.9"/>
<rect x="761.93" y="508.9" width="1.80" height="5.6"/>
<rect x="764.51" y="491.9" width="1.80" height="22.6"/>
<rect x="766.18" y="501.3" width="1.80" height="13.2"/>
<rect x="768.01" y="508.1" width="1.80" height="6.4"/>
<rect x="770.29" y="507.4" width="1.80" height="7.1"/>
<rect x="771.81" y="505.1" width="1.80" height="9.4"/>
<rect x="773.60" y="497.7" width="1.80" height="16.8"/>
<rect x="773.63" y="497.5" width="1.80" height="17.0"/>
<rect x="775.60" y="505.8" width="1.80" height="8.7"/>
<rect x="775.70" y="504.5" width="1.80" height="10.0"/>
<rect x="777.58" y="505.1" width="1.80" height="9.4"/>
<rect x="777.80" y="505.6" width="1.80" height="8.9"/>
<rect x="779.10" y="505.8" width="1.80" height="8.7"/>
<rect x="779.40" y="506.8" width="1.60" height="7.7"/>
</g>
<line x1="20" y1="513.9" x2="781" y2="513.9" stroke="#7f98c2" stroke-width="1.2"/>
</svg>
<div class="t" style="left:18.60px;top:13.56px;font-size:16px;font-weight:normal;color:#3a3a3a;transform:scaleX(0.9714);transform-origin:0 0;">Share Price</div>
<div class="t" style="left:18.50px;top:51.84px;font-size:12px;font-weight:bold;color:#333;transform:scaleX(1.1819);transform-origin:0 0;">Price Chart (EUR)</div>
<div class="t" style="left:38.30px;top:83.47px;font-size:11.5px;font-weight:bold;color:#333;transform:scaleX(1.1825);transform-origin:0 0;">H+H International A/S B</div>
<div class="t" style="left:18.80px;top:421.64px;font-size:12px;font-weight:bold;color:#333;transform:scaleX(1.1943);transform-origin:0 0;">Volume</div>
<div class="t" style="left:19.90px;top:280.19px;font-size:9.7px;font-weight:normal;color:#7a7a7a;transform:scaleX(1.1539);transform-origin:0 0;">2012</div>
<div class="t" style="left:17.80px;top:398.49px;font-size:9.7px;font-weight:normal;color:#7a7a7a;transform:scaleX(1.1539);transform-origin:0 0;">2012</div>
<div class="t" style="left:75.10px;top:280.19px;font-size:9.7px;font-weight:normal;color:#7a7a7a;transform:scaleX(1.1539);transform-origin:0 0;">2013</div>
<div class="t" style="left:75.70px;top:398.49px;font-size:9.7px;font-weight:normal;color:#7a7a7a;transform:scaleX(1.1539);transform-origin:0 0;">2013</div>
<div class="t" style="left:151.10px;top:280.19px;font-size:9.7px;font-weight:normal;color:#7a7a7a;transform:scaleX(1.1539);transform-origin:0 0;">2014</div>
<div class="t" style="left:151.70px;top:398.49px;font-size:9.7px;font-weight:normal;color:#7a7a7a;transform:scaleX(1.1539);transform-origin:0 0;">2014</div>
<div class="t" style="left:227.10px;top:280.19px;font-size:9.7px;font-weight:normal;color:#7a7a7a;transform:scaleX(1.1539);transform-origin:0 0;">2015</div>
<div class="t" style="left:227.70px;top:398.49px;font-size:9.7px;font-weight:normal;color:#7a7a7a;transform:scaleX(1.1539);transform-origin:0 0;">2015</div>
<div class="t" style="left:303.10px;top:280.19px;font-size:9.7px;font-weight:normal;color:#7a7a7a;transform:scaleX(1.1539);transform-origin:0 0;">2016</div>
<div class="t" style="left:302.70px;top:398.49px;font-size:9.7px;font-weight:normal;color:#7a7a7a;transform:scaleX(1.1539);transform-origin:0 0;">2016</div>
<div class="t" style="left:379.10px;top:280.19px;font-size:9.7px;font-weight:normal;color:#7a7a7a;transform:scaleX(1.1539);transform-origin:0 0;">2017</div>
<div class="t" style="left:378.70px;top:398.49px;font-size:9.7px;font-weight:normal;color:#7a7a7a;transform:scaleX(1.1539);transform-origin:0 0;">2017</div>
<div class="t" style="left:455.10px;top:280.19px;font-size:9.7px;font-weight:normal;color:#7a7a7a;transform:scaleX(1.1539);transform-origin:0 0;">2018</div>
<div class="t" style="left:454.70px;top:398.49px;font-size:9.7px;font-weight:normal;color:#7a7a7a;transform:scaleX(1.1539);transform-origin:0 0;">2018</div>
<div class="t" style="left:532.10px;top:280.19px;font-size:9.7px;font-weight:normal;color:#7a7a7a;transform:scaleX(1.1539);transform-origin:0 0;">2019</div>
<div class="t" style="left:531.70px;top:398.49px;font-size:9.7px;font-weight:normal;color:#7a7a7a;transform:scaleX(1.1539);transform-origin:0 0;">2019</div>
<div class="t" style="left:608.10px;top:280.19px;font-size:9.7px;font-weight:normal;color:#7a7a7a;transform:scaleX(1.1539);transform-origin:0 0;">2020</div>
<div class="t" style="left:607.70px;top:398.49px;font-size:9.7px;font-weight:normal;color:#7a7a7a;transform:scaleX(1.1539);transform-origin:0 0;">2020</div>
<div class="t" style="left:684.10px;top:280.19px;font-size:9.7px;font-weight:normal;color:#7a7a7a;transform:scaleX(1.1539);transform-origin:0 0;">2021</div>
<div class="t" style="left:683.70px;top:398.49px;font-size:9.7px;font-weight:normal;color:#7a7a7a;transform:scaleX(1.1539);transform-origin:0 0;">2021</div>
<div class="t" style="left:760.10px;top:280.19px;font-size:9.7px;font-weight:normal;color:#7a7a7a;transform:scaleX(1.1539);transform-origin:0 0;">2022</div>
<div class="t" style="left:759.70px;top:398.49px;font-size:9.7px;font-weight:normal;color:#7a7a7a;transform:scaleX(1.1539);transform-origin:0 0;">2022</div>
<div class="t" style="left:787.10px;top:112.29px;font-size:9.7px;font-weight:normal;color:#7a7a7a;transform:scaleX(1.1400);transform-origin:0 0;">40</div>
<div class="t" style="left:787.10px;top:151.04px;font-size:9.7px;font-weight:normal;color:#7a7a7a;transform:scaleX(1.1400);transform-origin:0 0;">30</div>
<div class="t" style="left:787.10px;top:189.79px;font-size:9.7px;font-weight:normal;color:#7a7a7a;transform:scaleX(1.1400);transform-origin:0 0;">20</div>
<div class="t" style="left:787.10px;top:228.54px;font-size:9.7px;font-weight:normal;color:#7a7a7a;transform:scaleX(1.1400);transform-origin:0 0;">10</div>
<div class="t" style="left:787.10px;top:266.29px;font-size:9.7px;font-weight:normal;color:#7a7a7a;transform:scaleX(1.1493);transform-origin:0 0;">0</div>
<div class="t" style="left:787.50px;top:473.99px;font-size:9.7px;font-weight:normal;color:#7a7a7a;transform:scaleX(1.1600);transform-origin:0 0;">500k</div>
<div class="t" style="left:787.10px;top:511.29px;font-size:9.7px;font-weight:normal;color:#7a7a7a;transform:scaleX(1.1493);transform-origin:0 0;">0</div>
<div class="btns"><div style="width:34px">5D</div><div style="width:35px">1M</div><div style="width:35px">3M</div><div style="width:35.5px">6M</div><div style="width:41.5px">YTD</div><div style="width:31.5px">1Y</div><div style="width:33px">3Y</div><div style="width:33px">5Y</div><div class="sel" style="width:40.5px"><span>10Y</span></div><div style="width:39.5px">Max</div></div>
</body></html>
